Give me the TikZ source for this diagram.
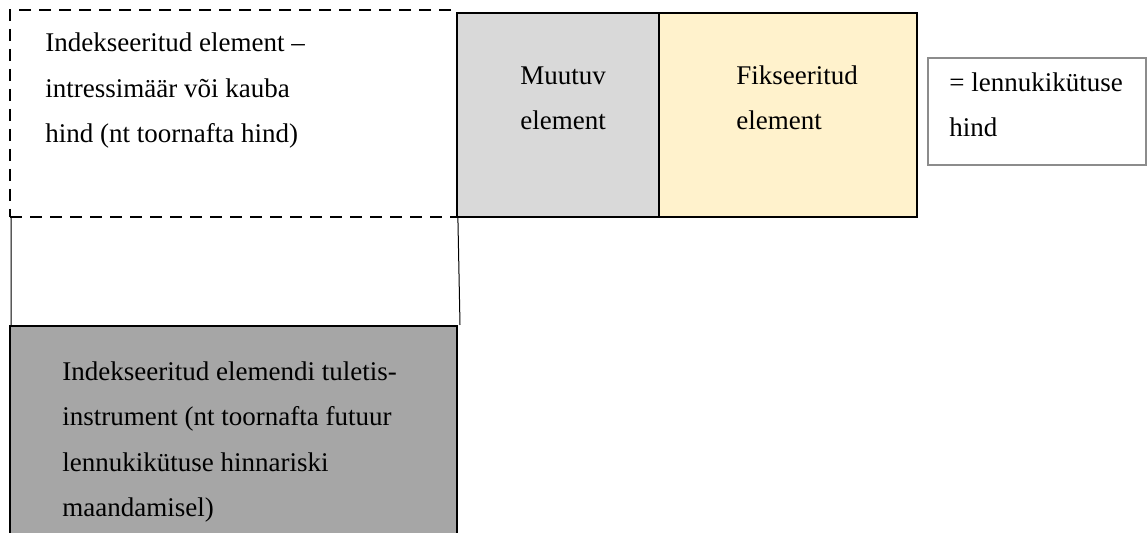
\documentclass[tikz,border=0pt]{standalone}
\usepackage{fontspec}
\setmainfont{Liberation Serif}
\definecolor{varfill}{HTML}{D9D9D9}
\definecolor{fixfill}{HTML}{FFF2CC}
\definecolor{derivfill}{HTML}{A6A6A6}
\definecolor{fuelline}{HTML}{8C8C8C}
\tikzset{
  box/.style={draw, rectangle, inner sep=0pt, line width=1.3pt},
  % base anchor of a multi-line node sits on its last line
  txt/.style={anchor=base west, inner sep=0pt, align=left,
    font=\fontsize{13.5}{22.75}\selectfont}
}
\begin{document}
\begin{tikzpicture}[x=0.5pt, y=-0.5pt]
\useasboundingbox (0,0) rectangle (1147,533);
\clip (0,0) rectangle (1147,533);
% boxes
\node[box, dashed, line width=0.9pt, dash pattern=on 6pt off 4pt, minimum width=223.5pt, minimum height=103.5pt] (idx) at (233.5,113.5) {};
\node[box, fill=varfill, minimum width=101pt, minimum height=102pt] (var) at (558,115) {};
\node[box, fill=fixfill, minimum width=129pt, minimum height=102pt] (fix) at (788,115) {};
\node[box, draw=fuelline, line width=0.9pt, minimum width=109pt, minimum height=53.5pt] (fuel) at (1037,111.5) {};
\node[box, fill=derivfill, line width=1pt, minimum width=223.5pt, minimum height=109.5pt] (deriv) at (233.5,435.5) {};
% thin links
\draw[line width=0.5pt] ([xshift=1pt]idx.south west) -- ([xshift=1pt]deriv.north west);
\draw[line width=0.5pt] (idx.south east) -- ([xshift=1pt]deriv.north east);
% texts
\node[txt] (idxtext) at (45,143) {Indekseeritud element --\\intressimäär või kauba\\hind (nt toornafta hind)};
\node[txt] (vartext) at (520,130) {Muutuv\\element};
\node[txt] (fixtext) at (736,130) {Fikseeritud\\element};
\node[txt] (fueltext) at (949,137) {= lennukikütuse\\hind};
\node[txt] (derivtext) at (62,517) {Indekseeritud elemendi tuletis-\\instrument (nt toornafta futuur\\lennukikütuse hinnariski\\maandamisel)};
\end{tikzpicture}
\end{document}
